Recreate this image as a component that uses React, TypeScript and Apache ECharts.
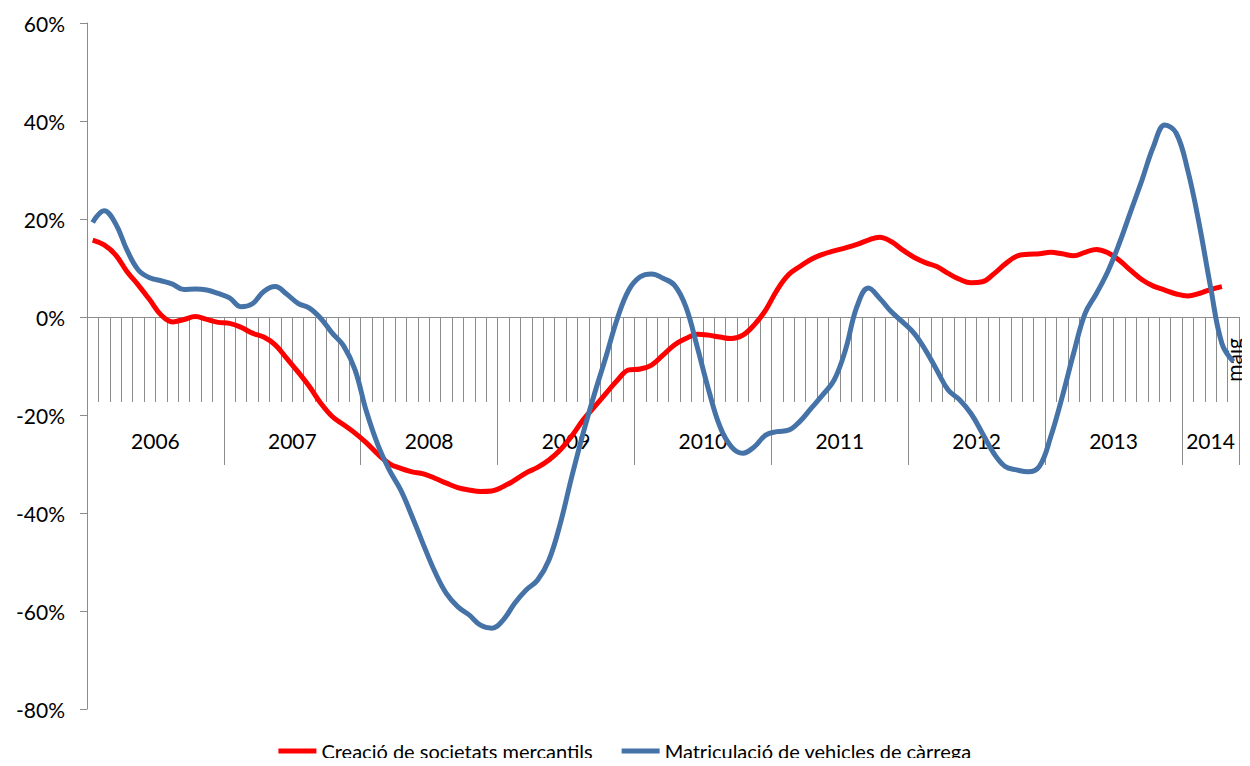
import React, { useEffect, useRef } from "react";
import * as echarts from "echarts";

const years = ["2006", "2007", "2008", "2009", "2010", "2011", "2012", "2013", "2014"];
const monthNames = ["gen", "febr", "març", "abr", "maig", "juny", "jul", "ag", "set", "oct", "nov", "des"];
const monthsInLastYear = 5;

const seriesNames = ["Creació de societats mercantils", "Matriculació de vehicles de càrrega"];

const creacio: (number | null)[] = [
  15.7, 14.7, 12.7, 9.3, 6.5, 3.5, 0.4, -1.0, -0.5, 0.1, -0.5, -1.1,
  -1.3, -2.1, -3.3, -4.1, -5.7, -8.4, -11.2, -14.2, -17.6, -20.3, -22.0, -23.7,
  -25.7, -28.0, -29.9, -30.9, -31.6, -32.0, -32.9, -33.9, -34.8, -35.3, -35.6, -35.5,
  -34.6, -33.3, -31.8, -30.7, -29.2, -27.1, -24.3, -21.0, -18.3, -15.6, -12.9, -10.8,
  -10.6, -9.8, -7.8, -5.7, -4.4, -3.5, -3.7, -4.1, -4.4, -3.7, -1.6, 1.4,
  5.5, 8.6, 10.3, 11.8, 12.8, 13.5, 14.1, 14.8, 15.7, 16.3, 15.4, 13.7,
  12.2, 11.1, 10.3, 8.9, 7.7, 7.0, 7.2, 8.8, 10.8, 12.4, 12.8, 12.9,
  13.2, 12.9, 12.5, 13.2, 13.8, 13.1, 11.6, 9.5, 7.6, 6.3, 5.5, 4.7,
  4.3, 4.8, 5.6, 6.2, null,
];

const matriculacio: number[] = [
  19.3, 21.7, 19.1, 13.7, 9.6, 8.0, 7.4, 6.7, 5.6, 5.7, 5.5, 4.8,
  3.9, 2.1, 2.7, 5.2, 6.2, 4.7, 2.8, 1.8, -0.3, -3.3, -5.9, -10.8,
  -19.3, -26.1, -31.2, -35.3, -40.7, -46.5, -52.0, -56.4, -59.1, -60.8, -62.9, -63.5,
  -61.8, -58.4, -55.7, -53.7, -49.6, -42.1, -32.6, -23.7, -15.6, -8.1, -0.3, 5.5,
  8.2, 8.8, 7.9, 6.5, 2.1, -6.1, -14.9, -22.4, -26.5, -27.8, -26.5, -24.1,
  -23.4, -23.1, -21.3, -18.6, -15.9, -12.9, -6.7, 2.1, 5.9, 3.8, 1.1, -1.0,
  -3.3, -6.7, -10.8, -14.9, -16.9, -19.7, -23.7, -27.8, -30.5, -31.2, -31.6, -30.5,
  -24.4, -16.3, -7.4, 0.7, 4.8, 9.3, 15.0, 21.5, 28.0, 34.8, 39.2, 37.5,
  30.0, 19.1, 6.2, -5.4, -9.1,
];

const yMin = -80;
const yMax = 60;
const yStep = 20;

// month categories
const monthCats: string[] = [];
years.forEach((y, yi) => {
  const n = yi === years.length - 1 ? monthsInLastYear : 12;
  for (let m = 0; m < n; m++) monthCats.push(monthNames[m] + " " + y);
});
const nMonths = monthCats.length;

// half-month boundary grid for year separators and centred year labels
const halfCats: string[] = [];
for (let k = 0; k <= nMonths * 2; k++) halfCats.push(String(k));
const yearLabelAt: Record<number, string> = {};
const yearBoundaryAt: Record<number, boolean> = {};
years.forEach((y, yi) => {
  const start = yi * 12;
  const n = yi === years.length - 1 ? monthsInLastYear : 12;
  yearBoundaryAt[start * 2] = true;
  yearLabelAt[start * 2 + n] = y;
});
yearBoundaryAt[nMonths * 2] = true;

const FONT = "Lato, 'Open Sans', sans-serif";
const AXIS_GRAY = "#8c8c8c";

// layout of the plot area
const W = 1250;
const H = 766;
const G_LEFT = 87;
const G_RIGHT = 11;
const G_TOP = 23;
const G_BOTTOM = 57;
// the category axes sit on the 0% line: a second grid whose bottom edge is the 0 value
const zeroBottom = G_BOTTOM + ((0 - yMin) / (yMax - yMin)) * (H - G_TOP - G_BOTTOM);

export default function App() {
  const ref = useRef<HTMLDivElement>(null);
  useEffect(() => {
    if (!ref.current) return;
    const chart = echarts.init(ref.current, undefined, { renderer: "svg" });
    chart.setOption({
      animation: false,
      textStyle: { fontFamily: FONT, color: "#000" },
      grid: [
        { left: G_LEFT, right: G_RIGHT, top: G_TOP, bottom: G_BOTTOM, containLabel: false, outerBoundsMode: "none" },
        { left: G_LEFT, right: G_RIGHT, top: G_TOP, bottom: zeroBottom, containLabel: false, outerBoundsMode: "none" },
      ],
      legend: {
        bottom: 0,
        left: "center",
        icon: "rect",
        itemWidth: 38,
        itemHeight: 5,
        itemGap: 29,
        textStyle: { fontFamily: FONT, fontSize: 20, color: "#000" },
        data: seriesNames,
      },
      xAxis: [
        {
          // data axis for the series (hidden)
          type: "category",
          gridIndex: 0,
          data: monthCats,
          boundaryGap: true,
          show: false,
        },
        {
          // monthly ticks on the 0% line
          type: "category",
          gridIndex: 1,
          data: monthCats,
          boundaryGap: true,
          position: "bottom",
          axisLine: { show: true, onZero: false, lineStyle: { color: AXIS_GRAY, width: 1 } },
          axisTick: { show: true, interval: 0, length: 85, lineStyle: { color: AXIS_GRAY } },
          axisLabel: {
            interval: (i: number) => i === nMonths - 1,
            formatter: (v: string) => v.split(" ")[0],
            rotate: 90,
            margin: 21,
            fontSize: 21,
            fontFamily: FONT,
            color: "#000",
          },
          splitLine: { show: false },
        },
        {
          // year separators and year labels
          type: "category",
          gridIndex: 1,
          data: halfCats,
          boundaryGap: false,
          position: "bottom",
          axisLine: { show: false, onZero: false },
          axisTick: {
            show: true,
            interval: (i: number) => !!yearBoundaryAt[i],
            length: 148,
            lineStyle: { color: AXIS_GRAY },
          },
          axisLabel: {
            interval: (i: number) => !!yearLabelAt[i],
            formatter: (v: string) => yearLabelAt[Number(v)] || "",
            margin: 113,
            fontSize: 21,
            fontFamily: FONT,
            color: "#000",
          },
          splitLine: { show: false },
        },
      ],
      yAxis: [
        {
          type: "value",
          gridIndex: 0,
          min: yMin,
          max: yMax,
          interval: yStep,
          axisLine: { show: true, lineStyle: { color: AXIS_GRAY } },
          axisTick: { show: true, length: 7, lineStyle: { color: AXIS_GRAY } },
          axisLabel: {
            formatter: "{value}%",
            margin: 22,
            fontSize: 21,
            fontFamily: FONT,
            color: "#000",
          },
          splitLine: { show: false },
        },
        {
          type: "value",
          gridIndex: 1,
          min: 0,
          max: yMax,
          show: false,
          splitLine: { show: false },
        },
      ],
      series: [
        {
          name: seriesNames[0],
          type: "line",
          xAxisIndex: 0,
          yAxisIndex: 0,
          data: creacio,
          smooth: 0.4,
          showSymbol: false,
          symbol: "none",
          lineStyle: { color: "#ff0000", width: 5 },
          itemStyle: { color: "#ff0000" },
          z: 2,
        },
        {
          name: seriesNames[1],
          type: "line",
          xAxisIndex: 0,
          yAxisIndex: 0,
          data: matriculacio,
          smooth: 0.4,
          showSymbol: false,
          symbol: "none",
          lineStyle: { color: "#4572a7", width: 5 },
          itemStyle: { color: "#4572a7" },
          z: 3,
        },
      ],
    });
    return () => chart.dispose();
  }, []);
  return <div ref={ref} style={{ width: W, height: H, margin: -8 }} />;
}
